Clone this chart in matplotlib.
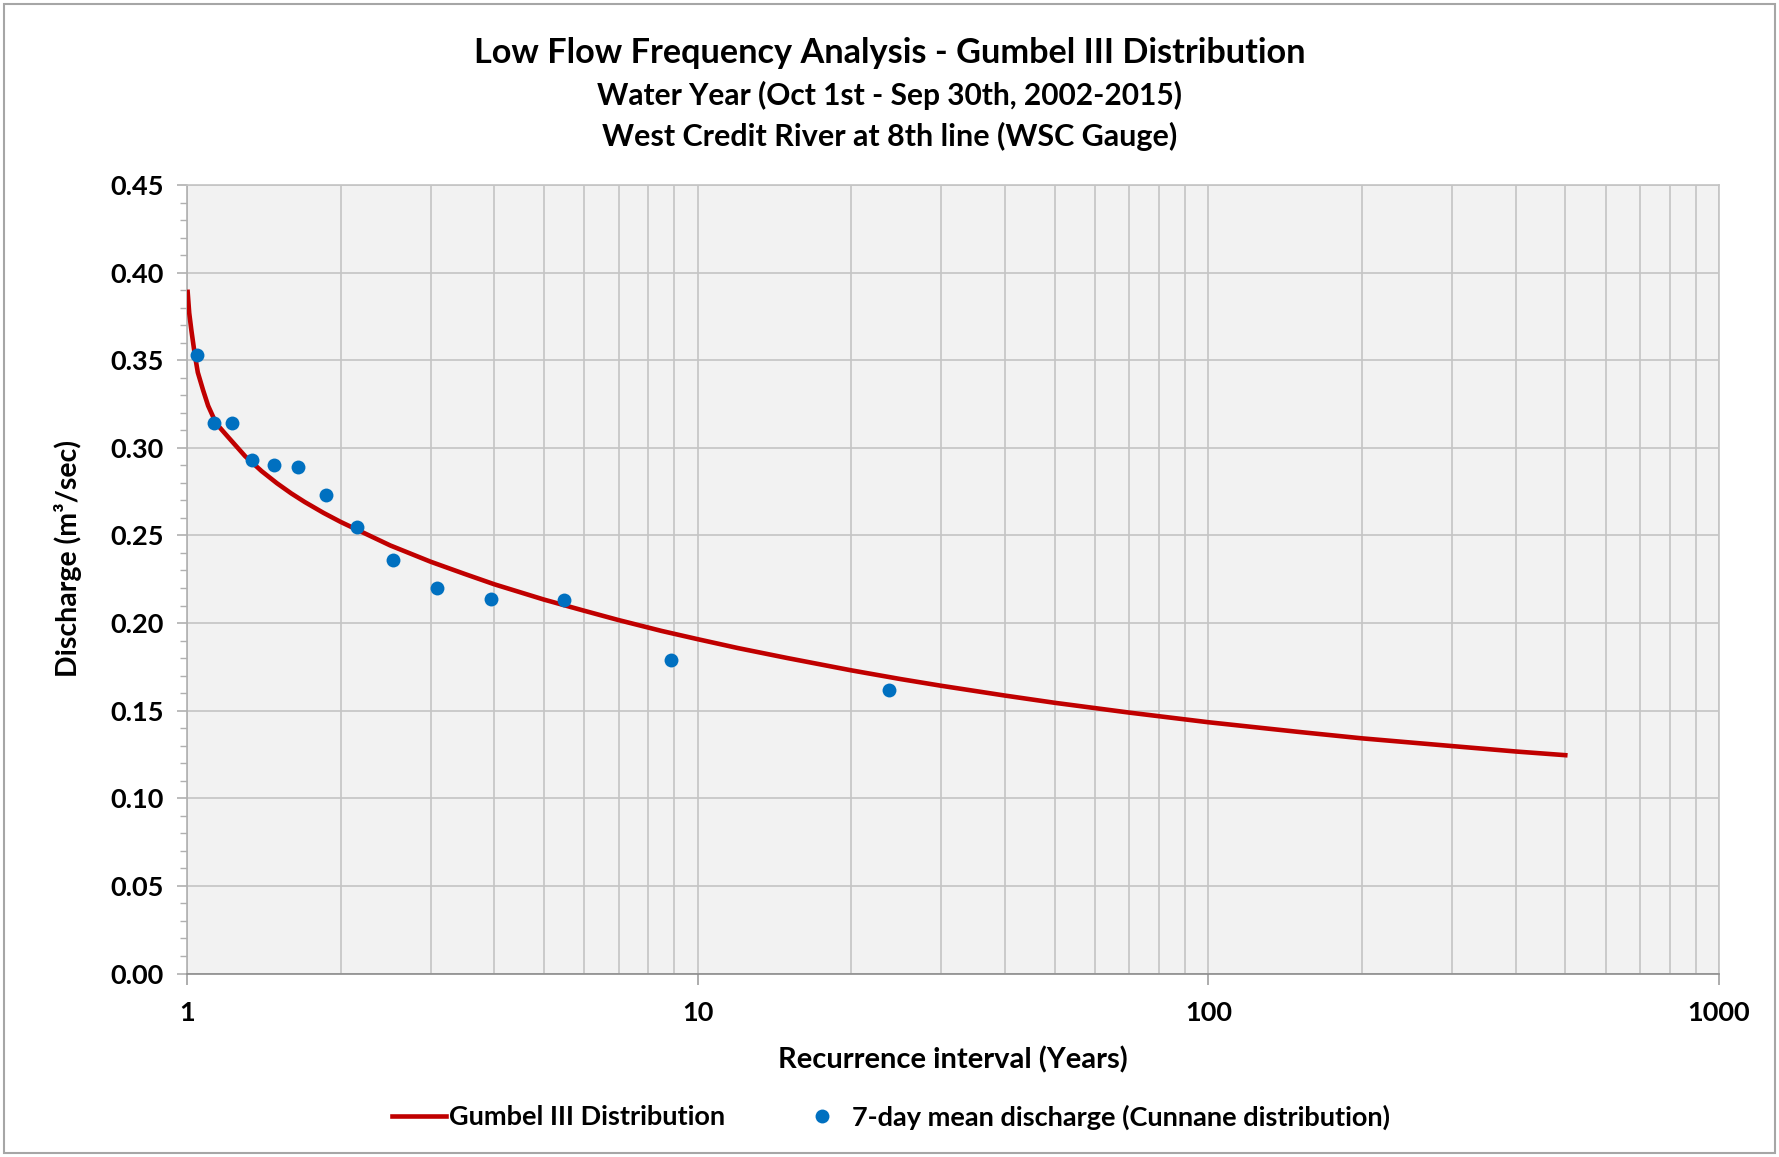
import matplotlib
matplotlib.use('Agg')
import matplotlib.pyplot as plt
from matplotlib.ticker import FixedLocator, NullFormatter, FuncFormatter
from matplotlib.patches import Rectangle

plt.rcParams.update({
    'font.family': ['Lato', 'DejaVu Sans'],
    'font.weight': 'bold',
})

# Gumbel III fit
gumbel_T = [1.003, 1.01, 1.02, 1.036, 1.05, 1.075, 1.1, 1.14, 1.2, 1.3, 1.4, 1.5,
            1.6, 1.7, 1.85, 2, 2.5, 3, 3.5, 4, 5, 6, 7, 8.5, 10, 12, 15, 20, 25, 30,
            40, 50, 70, 100, 150, 200, 300, 400, 500]
gumbel_Q = [0.389, 0.377, 0.367, 0.353, 0.343, 0.333, 0.324, 0.314, 0.3066, 0.2952,
            0.2867, 0.2798, 0.274, 0.2691, 0.2629, 0.2577, 0.2443, 0.235, 0.228, 0.2221,
            0.2134, 0.207, 0.2017, 0.1955, 0.1908, 0.1857, 0.180, 0.173, 0.168, 0.1642,
            0.1586, 0.1545, 0.1489, 0.1434, 0.1379, 0.1342, 0.1298, 0.1267, 0.1246]

# observed 7-day mean discharge, Cunnane plotting positions
obs_T = [1.044, 1.127, 1.224, 1.340, 1.479, 1.651, 1.868, 2.152, 2.536, 3.087,
         3.944, 5.462, 8.875, 23.67]
obs_Q = [0.353, 0.314, 0.314, 0.293, 0.290, 0.289, 0.273, 0.255, 0.236, 0.220,
         0.214, 0.213, 0.179, 0.162]

W, H = 1779, 1157
fig = plt.figure(figsize=(W / 100, H / 100), dpi=100)
fig.patches.append(Rectangle((4 / W, 4 / H), 1 - 8 / W, 1 - 8 / H, transform=fig.transFigure,
                             fill=False, edgecolor='#a6a6a6', linewidth=1.5))

ax = fig.add_axes([187 / W, 1 - 973.5 / H, (1719 - 187) / W, (973.5 - 185) / H])
ax.set_facecolor('#f2f2f2')

ax.plot(gumbel_T, gumbel_Q, color='#c00000', lw=3.3, label='Gumbel III Distribution', zorder=3)
ax.plot(obs_T, obs_Q, 'o', color='#0070c0', markersize=10, markeredgewidth=0,
        label='7-day mean discharge (Cunnane distribution)', zorder=4)

ax.set_xscale('log')
ax.set_xlim(1, 1000)
ax.set_ylim(0, 0.45)
ax.set_yticks([i * 0.05 for i in range(10)])
ax.yaxis.set_minor_locator(FixedLocator([i * 0.01 for i in range(46)]))
ax.yaxis.set_major_formatter(FuncFormatter(lambda v, p: f'{v:.2f}'))
ax.xaxis.set_major_formatter(FuncFormatter(lambda v, p: f'{v:g}'))
ax.xaxis.set_minor_formatter(NullFormatter())

ax.grid(True, which='major', axis='both', color='#c4c4c4', lw=1.2, zorder=0)
ax.grid(True, which='minor', axis='x', color='#c4c4c4', lw=1.2, zorder=0)
ax.set_axisbelow(True)

ax.tick_params(axis='y', which='major', length=7.5, width=1.2, color='#b0b0b0',
               labelsize=19.5, pad=9)
ax.tick_params(axis='y', which='minor', length=5, width=1, color='#b0b0b0')
ax.tick_params(axis='x', which='major', length=8, width=1.2, color='#a0a0a0',
               labelsize=19.5, pad=12)
ax.tick_params(axis='x', which='minor', length=0)

for s in ['top', 'right']:
    ax.spines[s].set_color('#c4c4c4')
ax.spines['left'].set_color('#b0b0b0')
ax.spines['bottom'].set_color('#8c8c8c')
for s in ax.spines.values():
    s.set_linewidth(1.2)

ax.set_xlabel('Recurrence interval (Years)', fontsize=21, fontweight='bold', labelpad=15)
ax.set_ylabel('Discharge (m³/sec)', fontsize=20.5, fontweight='bold')
ax.yaxis.set_label_coords(-0.0683, 0.526)

fig.text(0.5, 1 - 53 / H, 'Low Flow Frequency Analysis - Gumbel III Distribution',
         ha='center', va='center', fontsize=24.7, fontweight='bold')
fig.text(0.5, 1 - 95 / H, 'Water Year (Oct 1st - Sep 30th, 2002-2015)',
         ha='center', va='center', fontsize=21.5, fontweight='bold')
fig.text(0.5, 1 - 136 / H, 'West Credit River at 8th line (WSC Gauge)',
         ha='center', va='center', fontsize=22, fontweight='bold')

fig.legend(loc='center', bbox_to_anchor=(891 / W, 1 - 1117 / H), ncol=2, frameon=False,
           fontsize=19.5, columnspacing=2.6, handlelength=2.0, handletextpad=0.1)

fig.savefig('out.png', dpi=100)
